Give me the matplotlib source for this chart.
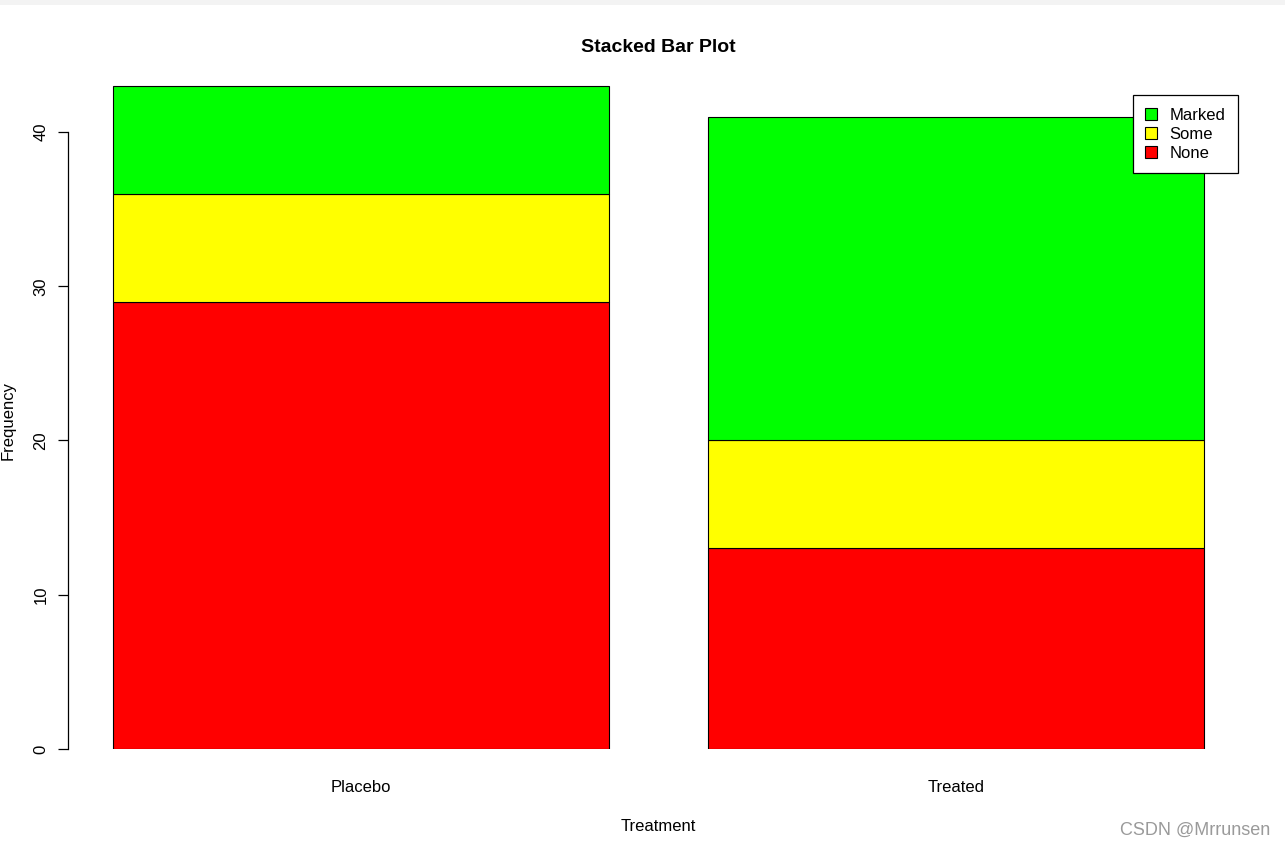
import matplotlib
matplotlib.use("Agg")
import matplotlib.pyplot as plt
from matplotlib.patches import Patch, Rectangle

plt.rcParams['font.family'] = ['Liberation Sans', 'DejaVu Sans']

treatments = ['Placebo', 'Treated']
levels = ['None', 'Some', 'Marked']
counts = {
    'None': [29, 13],
    'Some': [7, 7],
    'Marked': [7, 21],
}
colors = {'None': '#ff0000', 'Some': '#ffff00', 'Marked': '#00ff00'}

W, H = 1285, 847
fig = plt.figure(figsize=(W / 100, H / 100), dpi=100)

# axes placed in pixel terms to mimic R's plot region
left, right, bottom, top = 68, 1250, 749, 70
ax = fig.add_axes([left / W, (H - bottom) / H, (right - left) / W, (bottom - top) / H])

# R barplot geometry: width 1, space 0.2
xs = [0.2 + i * 1.2 for i in range(len(treatments))]
base = [0] * len(treatments)
for lev in levels:
    ax.bar(xs, counts[lev], width=1.0, bottom=base, align='edge',
           color=colors[lev], edgecolor='black', linewidth=0.8)
    base = [b + v for b, v in zip(base, counts[lev])]

ax.set_xlim(0.2 - 45 / 496, 0.2 + (right - 113) / 496)
ax.set_ylim(0, (bottom - top) / 15.425)

for s in ['top', 'right', 'bottom']:
    ax.spines[s].set_visible(False)
ax.spines['left'].set_bounds(0, 40)
ax.spines['left'].set_linewidth(0.9)

ax.set_yticks([0, 10, 20, 30, 40])
ax.tick_params(axis='y', length=7, width=0.9, pad=7, labelsize=12)
for lab in ax.get_yticklabels():
    lab.set_rotation(90)
    lab.set_va('center')

ax.set_xticks([x + 0.5 for x in xs])
ax.set_xticklabels(treatments)
ax.tick_params(axis='x', length=0, pad=22, labelsize=12)

fig.text(658 / W, (H - 826) / H, 'Treatment', ha='center', va='center', fontsize=12)
fig.text(8 / W, (H - 420) / H, 'Frequency', rotation=90, ha='center', va='center', fontsize=12)
fig.text(658 / W, (H - 48) / H, 'Stacked Bar Plot', ha='center', va='center',
         fontsize=14, fontweight='bold')

handles = [Patch(facecolor=colors[l], edgecolor='black', linewidth=0.8) for l in reversed(levels)]
leg = fig.legend(handles, list(reversed(levels)), loc='upper right',
                 bbox_to_anchor=(1238 / W, (H - 95) / H), fontsize=12,
                 frameon=True, fancybox=False, edgecolor='black', framealpha=1,
                 handlelength=0.72, handleheight=0.72, handletextpad=0.75,
                 labelspacing=0.25, borderpad=0.75, borderaxespad=0)
leg.get_frame().set_linewidth(0.9)

# toolbar strip and watermark from the screenshot
fig.patches.append(Rectangle((0, 1 - 5 / H), 1, 5 / H, transform=fig.transFigure,
                             facecolor='#f3f3f3', edgecolor='none'))
fig.text(1270 / W, (H - 830) / H, 'CSDN @Mrrunsen', ha='right', va='center',
         fontsize=13, color='#9a9a9a')

fig.savefig('out.png', dpi=100)
